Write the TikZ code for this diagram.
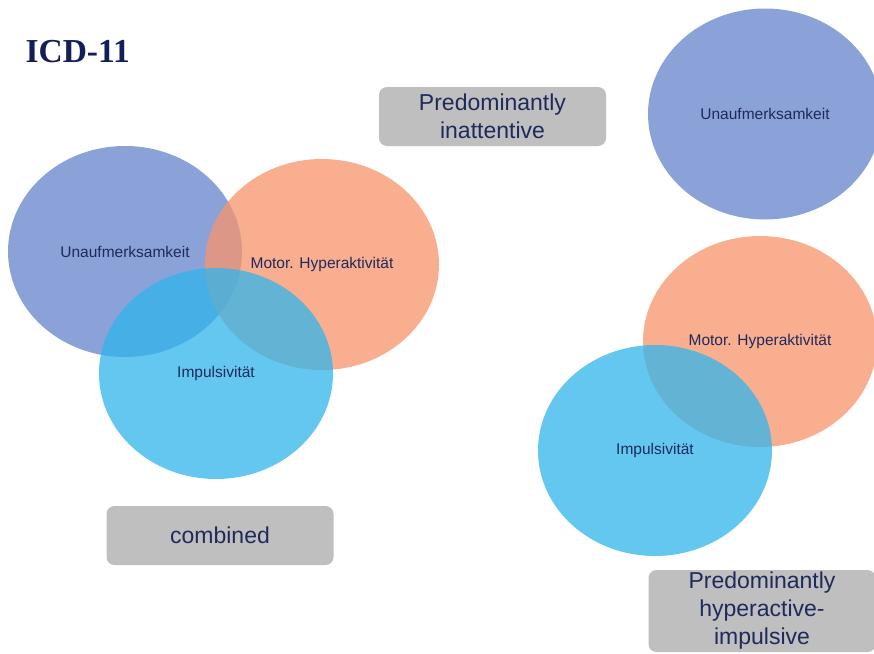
\documentclass[tikz,border=0pt]{standalone}
\usepackage{fontspec}
\setmainfont{Liberation Sans}
\newfontfamily\titlefont{Liberation Serif}
\usetikzlibrary{shapes.geometric}

\definecolor{ublue}{RGB}{101,132,205}
\definecolor{uorange}{RGB}{248,148,108}
\definecolor{ucyan}{RGB}{48,181,235}
\definecolor{unavy}{RGB}{31,42,92}
\definecolor{utitle}{RGB}{20,30,88}
\definecolor{ubox}{RGB}{191,191,191}
\tikzset{
  venn/.style={ellipse,minimum width=234pt,minimum height=211pt,inner sep=0pt,fill opacity=0.75},
  vlabel/.style={text=unavy,font=\fontsize{15.5}{18}\selectfont},
  typebox/.style={fill=ubox,rounded corners=8pt,text=unavy,align=center,
    font=\fontsize{23}{28}\selectfont,minimum width=227pt,inner sep=0pt}
}

\begin{document}
\begin{tikzpicture}[x=1pt,y=-1pt]
    \useasboundingbox[fill=white] (0,0) rectangle (874,653);
    \node[anchor=base west,text=utitle,font=\titlefont\bfseries\fontsize{33.5}{38}\selectfont] (title) at (22,62) {ICD-11};
    % combined
    \node[venn,fill=ublue]   (uaL) at (125,251.5) {};
    \node[venn,fill=uorange] (hyL) at (322,264.5) {};
    \node[venn,fill=ucyan]   (imL) at (216,373.5) {};
    \node[vlabel] at (uaL) {Unaufmerksamkeit};
    \node[vlabel] at (hyL) {Motor. Hyperaktivität};
    \node[vlabel] at (imL) {Impulsivität};
    % inattentive / hyperactive-impulsive
    \node[venn,fill=ublue]   (uaR) at (765,114) {};
    \node[venn,fill=uorange] (hyR) at (760,341.5) {};
    \node[venn,fill=ucyan]   (imR) at (655,450.5) {};
    \node[vlabel] at (uaR) {Unaufmerksamkeit};
    \node[vlabel] at (hyR) {Motor. Hyperaktivität};
    \node[vlabel] at (imR) {Impulsivität};
    % subtype boxes
    \node[typebox,minimum height=59pt] (inatt) at (492.5,116.5) {Predominantly\\inattentive};
    \node[typebox,minimum height=59pt] (comb)  at (220,535.5) {combined};
    \node[typebox,minimum height=82pt] (hypimp) at (762,611) {Predominantly\\hyperactive-\\impulsive};
\end{tikzpicture}
\end{document}
